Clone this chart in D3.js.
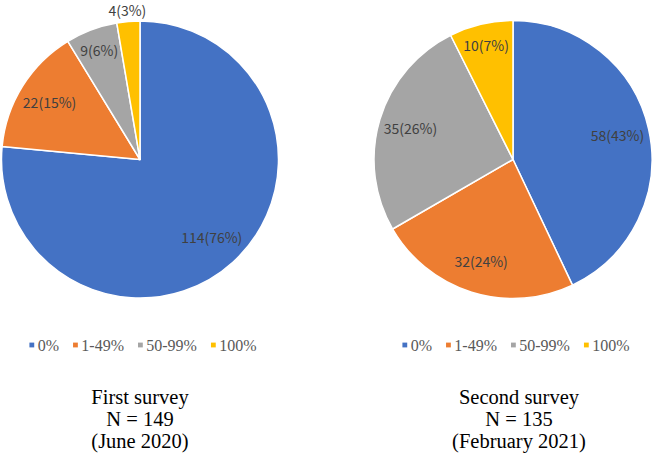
<!DOCTYPE html>
<html><head><meta charset="utf-8">
<script src="https://cdn.jsdelivr.net/npm/d3@7"></script>
<style>html,body{margin:0;padding:0;background:#fff;}svg{display:block;}</style>
</head><body>
<svg id="c" width="653" height="456"></svg>
<script>
const categories = ["0%", "1-49%", "50-99%", "100%"];
const firstValues = [114, 22, 9, 4];
const firstPercents = [76, 15, 6, 3];
const secondValues = [58, 32, 35, 10];
const secondPercents = [43, 24, 26, 7];
const firstTitle = ["First survey", "N = 149", "(June 2020)"];
const secondTitle = ["Second survey", "N = 135", "(February 2021)"];
const colors = ["#4472C4", "#ED7D31", "#A5A5A5", "#FFC000"];

const svg = d3.select("#c");
const color = d3.scaleOrdinal().domain(categories).range(colors);

function drawPie(cx, cy, R, values, percents, title, titleX) {
  const g = svg.append("g").attr("transform", `translate(${cx},${cy})`);
  const data = categories.map((c, i) => ({cat: c, v: values[i], p: percents[i]}));
  const total = d3.sum(values);
  const pie = d3.pie().value(d => d.v).sort(null);
  const arcs = pie(data);
  const arc = d3.arc().innerRadius(0).outerRadius(R);
  g.selectAll("path.slice").data(arcs).join("path")
    .attr("class", "slice")
    .attr("d", arc)
    .attr("fill", d => color(d.data.cat))
    .attr("stroke", "#fff").attr("stroke-width", 1.5).attr("stroke-linejoin", "round");
  g.selectAll("text.lbl").data(arcs).join("text")
    .attr("class", "lbl")
    .attr("transform", d => {
      const f = d.data.v / total;
      const r = f >= 0.1 ? R * 0.77 : (f >= 0.04 ? R * 0.84 : R + 11);
      const a = (d.startAngle + d.endAngle) / 2;
      return `translate(${r * Math.sin(a)},${-r * Math.cos(a)})`;
    })
    .attr("text-anchor", "middle")
    .attr("dy", "0.36em")
    .attr("font-family", "'Noto Sans CJK JP', 'Noto Sans', sans-serif")
    .attr("font-size", 14)
    .attr("fill", "#404040")
    .text(d => `${d.data.v}(${d.data.p}%)`);

  // legend
  const lg = svg.append("g");
  let x = 0;
  categories.forEach((c, i) => {
    const it = lg.append("g");
    it.append("rect").attr("x", x).attr("y", 342.6).attr("width", 4.8).attr("height", 4.8).attr("fill", color(c));
    const t = it.append("text").attr("x", x + 8.3).attr("y", 350.5)
      .attr("font-family", "'Liberation Serif', 'Times New Roman', serif")
      .attr("font-size", 16).attr("fill", "#595959").text(c);
    const w = t.node().getComputedTextLength();
    x += 8.3 + w + 14;
  });
  const totalW = x - 14;
  lg.attr("transform", `translate(${cx + 3 - totalW / 2},0)`);

  const baselines = [404, 426, 447.5];
  svg.append("g").selectAll("text").data(title).join("text")
    .attr("x", titleX).attr("y", (d, i) => baselines[i])
    .attr("text-anchor", "middle")
    .attr("font-family", "'Liberation Serif', 'Times New Roman', serif")
    .attr("font-size", 20.5).attr("fill", "#000")
    .text(d => d);
}

drawPie(140, 159.5, 138.5, firstValues, firstPercents, firstTitle, 140);
drawPie(513, 159.5, 139, secondValues, secondPercents, secondTitle, 519);
</script>
</body></html>
